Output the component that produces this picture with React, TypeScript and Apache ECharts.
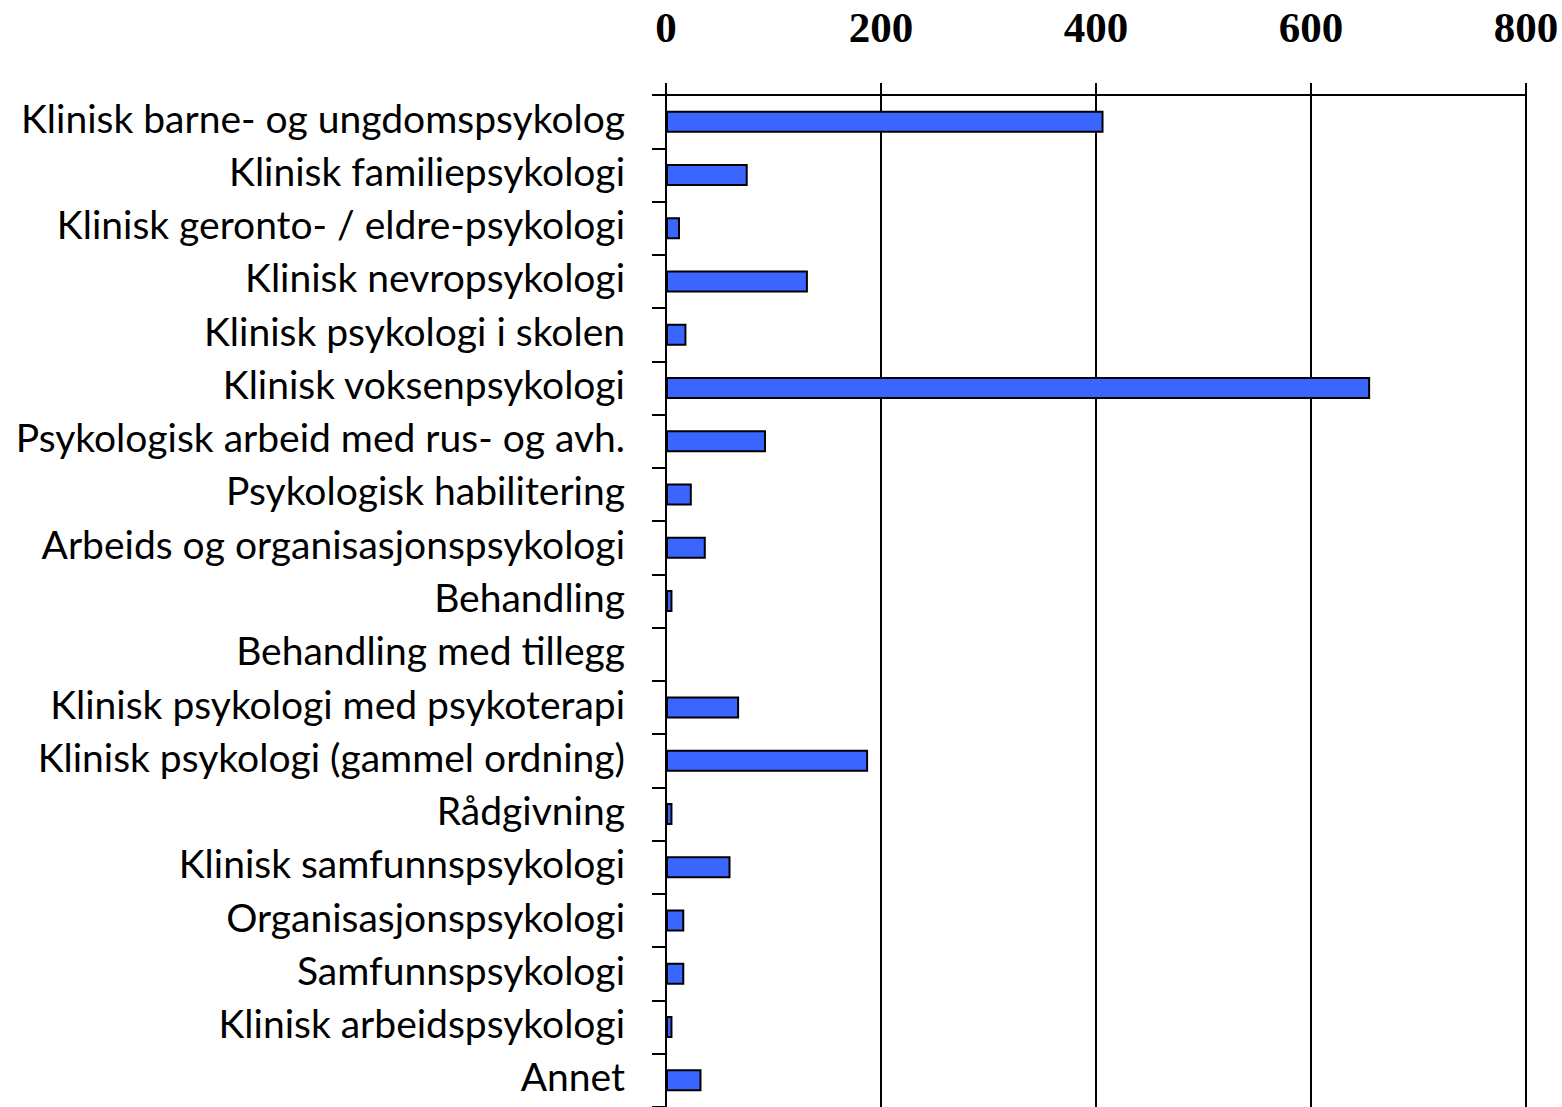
import React, { useEffect, useRef } from "react";
import * as echarts from "echarts";

const categories: string[] = [
  "Klinisk barne- og ungdomspsykolog",
  "Klinisk familiepsykologi",
  "Klinisk geronto- / eldre-psykologi",
  "Klinisk nevropsykologi",
  "Klinisk psykologi i skolen",
  "Klinisk voksenpsykologi",
  "Psykologisk arbeid med rus- og avh.",
  "Psykologisk habilitering",
  "Arbeids og organisasjonspsykologi",
  "Behandling",
  "Behandling med tillegg",
  "Klinisk psykologi med psykoterapi",
  "Klinisk psykologi (gammel ordning)",
  "Rådgivning",
  "Klinisk samfunnspsykologi",
  "Organisasjonspsykologi",
  "Samfunnspsykologi",
  "Klinisk arbeidspsykologi",
  "Annet",
];

const values: number[] = [407, 76, 13, 132, 19, 655, 93, 24, 37, 6, 0, 68, 188, 6, 60, 17, 17, 6, 33];

const xMin = 0;
const xMax = 800;
const xInterval = 200;

export default function App() {
  const ref = useRef<HTMLDivElement>(null);
  useEffect(() => {
    if (!ref.current) return;
    const chart = echarts.init(ref.current, undefined, { renderer: "svg" });
    chart.setOption({
      animation: false,
      backgroundColor: "#ffffff",
      grid: { left: 666, right: 36, top: 95, height: 1015, containLabel: false },
      xAxis: {
        type: "value",
        position: "top",
        min: xMin,
        max: xMax,
        interval: xInterval,
        axisLine: { show: true, lineStyle: { color: "#000", width: 2 } },
        axisTick: { show: true, length: 12, lineStyle: { color: "#000", width: 2 } },
        splitLine: { show: true, lineStyle: { color: "#000", width: 2 } },
        axisLabel: {
          margin: 46,
          color: "#000",
          fontFamily: "Liberation Serif",
          fontWeight: "bold",
          fontSize: 43,
        },
      },
      yAxis: {
        type: "category",
        inverse: true,
        data: categories,
        axisLine: { show: true, lineStyle: { color: "#000", width: 2 } },
        axisTick: { show: true, length: 14, lineStyle: { color: "#000", width: 2 } },
        axisLabel: {
          margin: 41,
          color: "#000",
          fontFamily: "Lato",
          fontSize: 39,
          interval: 0,
          formatter: (v: string) => "{a|" + v + "}",
          rich: {
            a: {
              fontFamily: "Lato",
              fontSize: 39,
              color: "#000",
              padding: [0, 0, 8, 0],
            },
          },
        },
      },
      series: [
        {
          type: "bar",
          data: values,
          barWidth: 22,
          itemStyle: { color: "#3A66FF", borderColor: "#000", borderWidth: 2 },
        },
      ],
    });
    return () => chart.dispose();
  }, []);
  return (
    <div
      ref={ref}
      style={{ position: "absolute", left: 0, top: 0, width: 1562, height: 1107 }}
    />
  );
}
